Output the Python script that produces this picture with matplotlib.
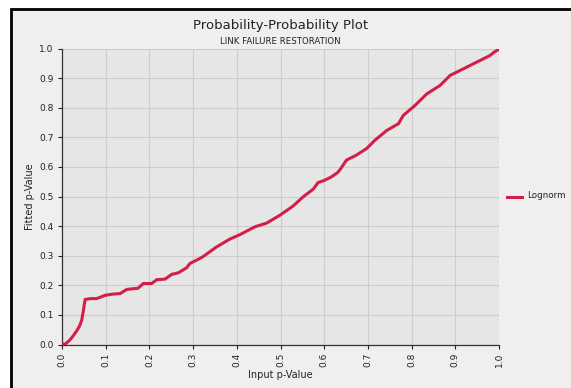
import matplotlib
matplotlib.use("Agg")
import matplotlib.pyplot as plt
from matplotlib.patches import Rectangle
from matplotlib.lines import Line2D

# Empirical (input) vs fitted lognormal p-values
input_p = [0.0, 0.008, 0.018, 0.026, 0.034, 0.040, 0.045, 0.049, 0.051, 0.053,
           0.065, 0.079, 0.088, 0.098, 0.115, 0.133, 0.148, 0.174, 0.186, 0.205,
           0.217, 0.236, 0.251, 0.266, 0.285, 0.293, 0.312, 0.323, 0.354, 0.384,
           0.407, 0.442, 0.468, 0.499, 0.529, 0.552, 0.575, 0.586, 0.598, 0.615,
           0.630, 0.636, 0.651, 0.674, 0.697, 0.716, 0.743, 0.770, 0.781, 0.808,
           0.835, 0.865, 0.888, 0.918, 0.949, 0.979, 0.991, 1.0]
fitted_p = [0.0, 0.002, 0.015, 0.030, 0.047, 0.062, 0.081, 0.115, 0.135, 0.152,
            0.155, 0.155, 0.160, 0.166, 0.170, 0.172, 0.186, 0.190, 0.206, 0.206,
            0.219, 0.221, 0.237, 0.242, 0.259, 0.274, 0.288, 0.297, 0.330, 0.356,
            0.371, 0.398, 0.410, 0.437, 0.468, 0.499, 0.525, 0.547, 0.553, 0.565,
            0.580, 0.590, 0.623, 0.640, 0.662, 0.690, 0.723, 0.746, 0.774, 0.808,
            0.847, 0.875, 0.909, 0.931, 0.954, 0.976, 0.990, 0.997]
series_name = "Lognorm"
ticks = [0.0, 0.1, 0.2, 0.3, 0.4, 0.5, 0.6, 0.7, 0.8, 0.9, 1.0]
tick_labels = ["0.0", "0.1", "0.2", "0.3", "0.4", "0.5", "0.6", "0.7", "0.8", "0.9", "1.0"]

W, H = 571, 388
fig = plt.figure(figsize=(W / 100, H / 100), dpi=100, facecolor="white")

# panel background with a dark frame on the left and top edges
fig.add_artist(Rectangle((11 / W, -0.1), 1.2, 1.1 - 9 / H, transform=fig.transFigure,
                         facecolor="#efefef", edgecolor="black", linewidth=2, zorder=-10))

ax = fig.add_axes([62 / W, 1 - 344.5 / H, 437 / W, 296 / H])
ax.set_facecolor("#e6e6e6")
line_color = "#d21f48"
ax.plot(input_p, fitted_p, color=line_color, linewidth=2.2, solid_joinstyle="miter",
        label=series_name, zorder=3)

ax.set_xlim(0, 1)
ax.set_ylim(0, 1)
ax.set_xticks(ticks)
ax.set_xticklabels(tick_labels, rotation=90, fontsize=6.5, color="#222222")
ax.set_yticks(ticks)
ax.set_yticklabels(tick_labels, fontsize=6.5, color="#222222")
ax.tick_params(direction="out", length=3, width=0.8, pad=3, colors="#222222")
ax.grid(True, color="#cdcdcd", linewidth=0.8)
ax.set_axisbelow(True)
for s in ("top", "right"):
    ax.spines[s].set_visible(False)
for s in ("left", "bottom"):
    ax.spines[s].set_color("#333333")
    ax.spines[s].set_linewidth(0.9)

ax.set_xlabel("Input p-Value", fontsize=7, color="#222222", labelpad=2)
ax.set_ylabel("Fitted p-Value", fontsize=7, color="#222222", labelpad=3)

fig.text(280.5 / W, 1 - 25 / H, "Probability-Probability Plot", ha="center", va="center",
         fontsize=9.5, color="#222222")
fig.text(280.5 / W, 1 - 41 / H, "LINK FAILURE RESTORATION", ha="center", va="center",
         fontsize=6.2, color="#222222")

# legend entry at the right of the panel
fig.add_artist(Line2D([507 / W, 522 / W], [1 - 197 / H, 1 - 197 / H], transform=fig.transFigure,
                      color=line_color, linewidth=2.2))
fig.text(527 / W, 1 - 196 / H, series_name, ha="left", va="center", fontsize=6.3, color="#222222")

fig.savefig("out.png", dpi=100, facecolor=fig.get_facecolor())
